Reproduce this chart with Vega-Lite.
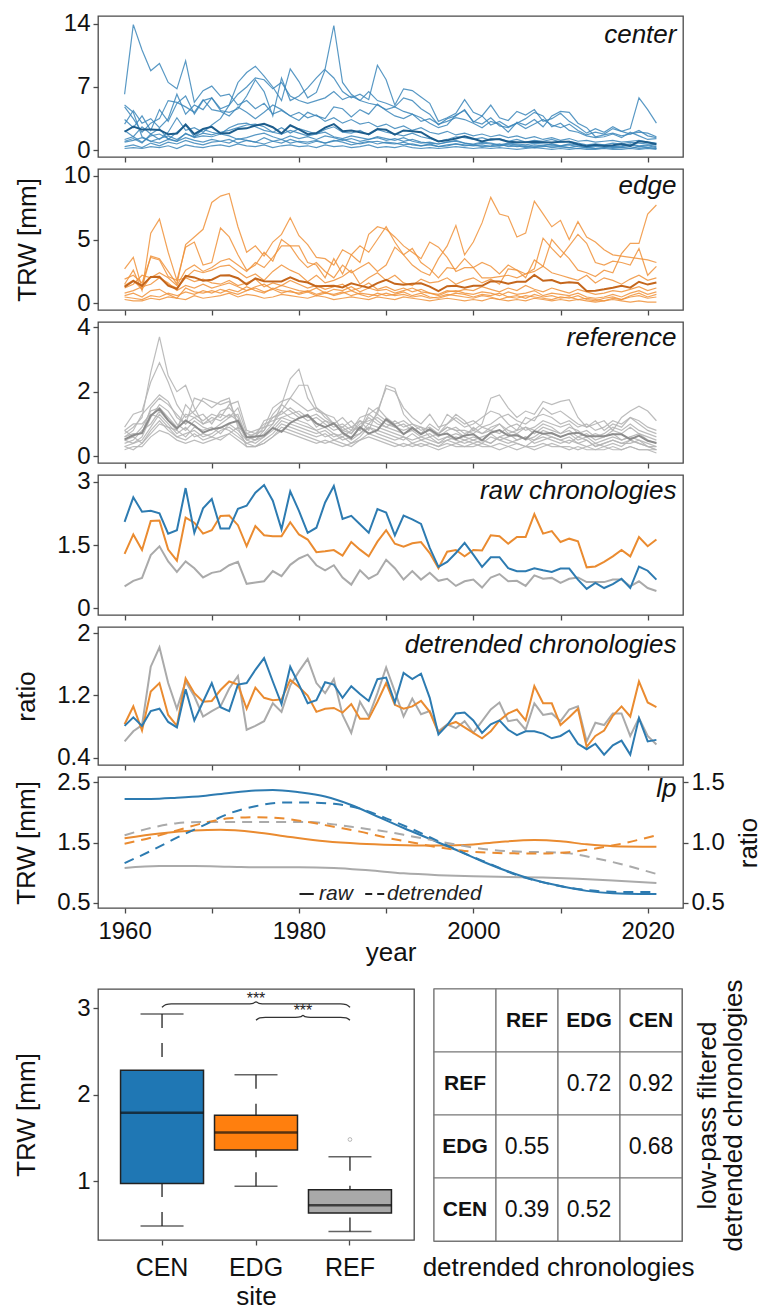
{
"$schema": "https://vega.github.io/schema/vega-lite/v6.json",
"background": "white",
"padding": {"left": 12, "top": 11, "right": 0, "bottom": 0},
"config": {
  "font": "Liberation Sans",
  "view": {"stroke": "#4a4a4a", "strokeWidth": 1.3},
  "axis": {"grid": false, "domain": false, "ticks": true, "tickColor": "#4a4a4a", "tickWidth": 1.3, "tickSize": 5, "labelFontSize": 24, "labelColor": "#111", "labelPadding": 3, "titleFontSize": 26, "titleFontWeight": "normal", "titleColor": "#111", "minExtent": 0, "labelFlush": false, "labelOverlap": false},
  "text": {"color": "#111"}
},
"datasets": {
  "raw": [
    {"year":1960,"cen":2.05,"edg":1.29,"ref":0.52},{"year":1961,"cen":2.63,"edg":1.75,"ref":0.65},{"year":1962,"cen":2.29,"edg":1.38,"ref":0.72},{"year":1963,"cen":2.31,"edg":2.07,"ref":1.26},{"year":1964,"cen":2.25,"edg":2.08,"ref":1.47},{"year":1965,"cen":1.77,"edg":1.39,"ref":1.11},{"year":1966,"cen":1.85,"edg":1.13,"ref":0.86},{"year":1967,"cen":2.85,"edg":2.15,"ref":1.11},{"year":1968,"cen":1.79,"edg":2.03,"ref":0.95},{"year":1969,"cen":2.37,"edg":1.77,"ref":0.73},
    {"year":1970,"cen":2.59,"edg":1.85,"ref":0.84},{"year":1971,"cen":1.89,"edg":2.19,"ref":0.88},{"year":1972,"cen":1.89,"edg":2.20,"ref":1.02},{"year":1973,"cen":2.36,"edg":1.97,"ref":1.10},{"year":1974,"cen":2.43,"edg":1.47,"ref":0.58},{"year":1975,"cen":2.74,"edg":1.95,"ref":0.61},{"year":1976,"cen":2.92,"edg":1.73,"ref":0.64},{"year":1977,"cen":2.55,"edg":1.71,"ref":0.88},{"year":1978,"cen":1.87,"edg":1.71,"ref":0.76},{"year":1979,"cen":2.77,"edg":2.04,"ref":1.03},
    {"year":1980,"cen":2.31,"edg":1.75,"ref":1.18},{"year":1981,"cen":1.79,"edg":1.63,"ref":1.27},{"year":1982,"cen":1.91,"edg":1.33,"ref":1.02},{"year":1983,"cen":2.51,"edg":1.35,"ref":0.90},{"year":1984,"cen":2.90,"edg":1.38,"ref":1.02},{"year":1985,"cen":2.12,"edg":1.25,"ref":0.73},{"year":1986,"cen":2.19,"edg":1.57,"ref":0.56},{"year":1987,"cen":1.99,"edg":1.39,"ref":0.90},{"year":1988,"cen":1.79,"edg":1.23,"ref":0.70},{"year":1989,"cen":2.35,"edg":1.58,"ref":0.81},
    {"year":1990,"cen":2.27,"edg":1.85,"ref":1.15},{"year":1991,"cen":1.73,"edg":1.53,"ref":0.95},{"year":1992,"cen":2.20,"edg":1.46,"ref":0.68},{"year":1993,"cen":2.11,"edg":1.54,"ref":0.88},{"year":1994,"cen":2.00,"edg":1.57,"ref":0.68},{"year":1995,"cen":1.43,"edg":1.31,"ref":0.84},{"year":1996,"cen":0.98,"edg":0.95,"ref":0.65},{"year":1997,"cen":1.10,"edg":1.34,"ref":0.70},{"year":1998,"cen":1.31,"edg":1.38,"ref":0.53},{"year":1999,"cen":1.55,"edg":1.23,"ref":0.64},
    {"year":2000,"cen":1.27,"edg":1.38,"ref":0.68},{"year":2001,"cen":0.98,"edg":1.37,"ref":0.49},{"year":2002,"cen":1.21,"edg":1.73,"ref":0.73},{"year":2003,"cen":1.21,"edg":1.71,"ref":0.81},{"year":2004,"cen":0.95,"edg":1.53,"ref":0.64},{"year":2005,"cen":0.88,"edg":1.69,"ref":0.65},{"year":2006,"cen":0.88,"edg":1.69,"ref":0.53},{"year":2007,"cen":0.95,"edg":2.23,"ref":0.78},{"year":2008,"cen":0.90,"edg":1.77,"ref":0.70},{"year":2009,"cen":0.86,"edg":1.83,"ref":0.72},
    {"year":2010,"cen":0.94,"edg":1.57,"ref":0.60},{"year":2011,"cen":0.94,"edg":1.65,"ref":0.70},{"year":2012,"cen":0.68,"edg":1.59,"ref":0.73},{"year":2013,"cen":0.46,"edg":0.97,"ref":0.62},{"year":2014,"cen":0.60,"edg":0.99,"ref":0.62},{"year":2015,"cen":0.48,"edg":1.10,"ref":0.62},{"year":2016,"cen":0.57,"edg":1.23,"ref":0.68},{"year":2017,"cen":0.70,"edg":1.38,"ref":0.68},{"year":2018,"cen":0.48,"edg":1.23,"ref":0.52},{"year":2019,"cen":0.99,"edg":1.69,"ref":0.64},
    {"year":2020,"cen":0.89,"edg":1.47,"ref":0.48},{"year":2021,"cen":0.68,"edg":1.63,"ref":0.41}
  ],
  "det": [
    {"year":1960,"cen":0.81,"edg":0.83,"ref":0.61},{"year":1961,"cen":0.92,"edg":1.06,"ref":0.74},{"year":1962,"cen":0.81,"edg":0.75,"ref":0.82},{"year":1963,"cen":1.00,"edg":1.25,"ref":1.57},{"year":1964,"cen":1.03,"edg":1.36,"ref":1.82},{"year":1965,"cen":0.86,"edg":0.95,"ref":1.36},{"year":1966,"cen":0.79,"edg":0.81,"ref":1.03},{"year":1967,"cen":1.28,"edg":1.42,"ref":1.38},{"year":1968,"cen":0.88,"edg":1.23,"ref":1.19},{"year":1969,"cen":1.12,"edg":1.12,"ref":0.93},
    {"year":1970,"cen":1.36,"edg":1.13,"ref":1.00},{"year":1971,"cen":1.05,"edg":1.27,"ref":1.06},{"year":1972,"cen":1.00,"edg":1.38,"ref":1.29},{"year":1973,"cen":1.34,"edg":1.34,"ref":1.45},{"year":1974,"cen":1.36,"edg":1.03,"ref":0.76},{"year":1975,"cen":1.53,"edg":1.30,"ref":0.81},{"year":1976,"cen":1.68,"edg":1.17,"ref":0.87},{"year":1977,"cen":1.38,"edg":1.14,"ref":1.10},{"year":1978,"cen":1.09,"edg":1.15,"ref":0.99},{"year":1979,"cen":1.57,"edg":1.40,"ref":1.33},
    {"year":1980,"cen":1.34,"edg":1.31,"ref":1.51},{"year":1981,"cen":1.10,"edg":1.20,"ref":1.67},{"year":1982,"cen":1.14,"edg":0.99,"ref":1.36},{"year":1983,"cen":1.37,"edg":1.03,"ref":1.23},{"year":1984,"cen":1.34,"edg":1.04,"ref":1.41},{"year":1985,"cen":1.17,"edg":0.98,"ref":0.95},{"year":1986,"cen":1.32,"edg":1.09,"ref":0.72},{"year":1987,"cen":1.22,"edg":0.90,"ref":1.12},{"year":1988,"cen":1.13,"edg":0.90,"ref":0.93},{"year":1989,"cen":1.41,"edg":1.12,"ref":1.23},
    {"year":1990,"cen":1.43,"edg":1.36,"ref":1.56},{"year":1991,"cen":1.11,"edg":1.08,"ref":1.25},{"year":1992,"cen":1.49,"edg":1.03,"ref":0.93},{"year":1993,"cen":1.41,"edg":1.06,"ref":1.16},{"year":1994,"cen":1.48,"edg":1.13,"ref":0.96},{"year":1995,"cen":1.17,"edg":0.99,"ref":1.00},{"year":1996,"cen":0.70,"edg":0.72,"ref":0.74},{"year":1997,"cen":0.82,"edg":0.82,"ref":0.83},{"year":1998,"cen":0.97,"edg":0.86,"ref":0.78},{"year":1999,"cen":0.98,"edg":0.79,"ref":0.87},
    {"year":2000,"cen":0.88,"edg":0.72,"ref":0.72},{"year":2001,"cen":0.72,"edg":0.65,"ref":0.87},{"year":2002,"cen":0.83,"edg":0.74,"ref":1.02},{"year":2003,"cen":0.88,"edg":0.88,"ref":1.11},{"year":2004,"cen":0.76,"edg":0.97,"ref":0.87},{"year":2005,"cen":0.69,"edg":1.02,"ref":0.89},{"year":2006,"cen":0.74,"edg":0.88,"ref":0.76},{"year":2007,"cen":0.74,"edg":1.32,"ref":1.10},{"year":2008,"cen":0.71,"edg":1.10,"ref":0.95},{"year":2009,"cen":0.65,"edg":1.10,"ref":0.97},
    {"year":2010,"cen":0.68,"edg":0.82,"ref":0.87},{"year":2011,"cen":0.75,"edg":0.92,"ref":1.02},{"year":2012,"cen":0.58,"edg":1.03,"ref":1.06},{"year":2013,"cen":0.51,"edg":0.54,"ref":0.61},{"year":2014,"cen":0.58,"edg":0.68,"ref":0.85},{"year":2015,"cen":0.44,"edg":0.75,"ref":0.82},{"year":2016,"cen":0.56,"edg":0.94,"ref":0.97},{"year":2017,"cen":0.62,"edg":1.06,"ref":0.97},{"year":2018,"cen":0.44,"edg":0.93,"ref":0.68},{"year":2019,"cen":0.91,"edg":1.38,"ref":0.91},
    {"year":2020,"cen":0.61,"edg":1.11,"ref":0.68},{"year":2021,"cen":0.63,"edg":1.05,"ref":0.57}
  ],
  "cen": [
    {"year":1960,"a":6.2,"b":3.4,"c":2.9,"d":4.8,"e":1.0,"f":2.2,"g":1.2,"h":0.4,"i":0.2,"j":0.9,"k":5.0},
    {"year":1961,"a":13.9,"b":2.5,"c":4.4,"d":3.5,"e":1.3,"f":1.5,"g":1.5,"h":0.6,"i":0.3,"j":1.1,"k":4.2},
    {"year":1962,"a":11.1,"b":3.8,"c":3.0,"d":2.0,"e":0.8,"f":2.6,"g":0.9,"h":0.3,"i":0.2,"j":1.4,"k":1.5},
    {"year":1963,"a":8.8,"b":2.2,"c":3.5,"d":3.0,"e":1.8,"f":1.8,"g":1.6,"h":0.8,"i":0.4,"j":1.0,"k":1.0},
    {"year":1964,"a":9.6,"b":4.5,"c":2.5,"d":3.5,"e":1.2,"f":2.4,"g":1.8,"h":0.5,"i":0.3,"j":1.3,"k":0.8},
    {"year":1965,"a":7.5,"b":3.2,"c":3.5,"d":5.5,"e":2.0,"f":1.2,"g":1.3,"h":0.9,"i":0.5,"j":1.6,"k":1.2},
    {"year":1966,"a":6.8,"b":5.2,"c":6.2,"d":5.3,"e":3.6,"f":2.0,"g":1.0,"h":0.7,"i":0.2,"j":1.2,"k":1.0},
    {"year":1967,"a":9.9,"b":6.0,"c":4.0,"d":4.8,"e":2.2,"f":2.8,"g":1.9,"h":1.1,"i":0.6,"j":1.8,"k":1.4},
    {"year":1968,"a":5.3,"b":4.0,"c":5.0,"d":4.2,"e":2.5,"f":1.5,"g":1.4,"h":0.8,"i":0.4,"j":1.5,"k":1.1},
    {"year":1969,"a":6.6,"b":5.5,"c":4.5,"d":5.6,"e":2.0,"f":2.3,"g":1.6,"h":0.6,"i":0.3,"j":1.9,"k":0.9},
    {"year":1970,"a":7.1,"b":5.8,"c":5.8,"d":4.5,"e":2.8,"f":2.0,"g":1.5,"h":0.9,"i":0.5,"j":1.7,"k":1.2},
    {"year":1971,"a":6.0,"b":4.6,"c":4.4,"d":4.3,"e":3.5,"f":1.8,"g":1.8,"h":1.0,"i":0.6,"j":2.0,"k":1.0},
    {"year":1972,"a":6.2,"b":5.0,"c":4.2,"d":3.8,"e":5.0,"f":2.5,"g":1.6,"h":1.2,"i":0.4,"j":2.2,"k":0.8},
    {"year":1973,"a":5.0,"b":7.5,"c":4.6,"d":4.8,"e":6.2,"f":2.9,"g":1.2,"h":0.8,"i":0.7,"j":2.5,"k":1.3},
    {"year":1974,"a":5.5,"b":8.6,"c":6.0,"d":4.2,"e":7.0,"f":3.0,"g":1.4,"h":1.1,"i":0.5,"j":2.8,"k":1.1},
    {"year":1975,"a":4.6,"b":9.3,"c":7.8,"d":3.5,"e":8.0,"f":2.6,"g":1.7,"h":0.9,"i":0.4,"j":2.9,"k":0.9},
    {"year":1976,"a":5.2,"b":8.2,"c":6.5,"d":4.2,"e":7.8,"f":2.2,"g":1.9,"h":0.7,"i":0.6,"j":2.6,"k":1.4},
    {"year":1977,"a":4.0,"b":7.0,"c":3.8,"d":5.0,"e":6.8,"f":2.0,"g":1.5,"h":1.0,"i":0.3,"j":2.0,"k":1.0},
    {"year":1978,"a":4.4,"b":5.5,"c":8.0,"d":4.5,"e":7.5,"f":2.5,"g":1.2,"h":0.8,"i":0.5,"j":1.8,"k":1.2},
    {"year":1979,"a":3.8,"b":9.0,"c":5.5,"d":3.8,"e":6.0,"f":1.9,"g":1.6,"h":1.2,"i":0.6,"j":2.2,"k":0.8},
    {"year":1980,"a":4.2,"b":7.6,"c":6.0,"d":3.3,"e":5.5,"f":2.4,"g":1.3,"h":0.9,"i":0.4,"j":1.9,"k":1.0},
    {"year":1981,"a":3.6,"b":5.8,"c":6.9,"d":4.2,"e":5.2,"f":2.1,"g":1.5,"h":0.7,"i":0.5,"j":1.6,"k":0.9},
    {"year":1982,"a":3.9,"b":6.4,"c":8.0,"d":3.8,"e":5.5,"f":1.8,"g":1.2,"h":1.0,"i":0.3,"j":1.8,"k":1.1},
    {"year":1983,"a":3.2,"b":8.9,"c":9.0,"d":3.5,"e":5.8,"f":2.3,"g":1.6,"h":0.8,"i":0.6,"j":2.0,"k":0.8},
    {"year":1984,"a":3.6,"b":8.0,"c":13.8,"d":4.8,"e":6.5,"f":2.6,"g":1.4,"h":1.1,"i":0.4,"j":1.5,"k":1.0},
    {"year":1985,"a":3.0,"b":6.5,"c":7.5,"d":4.6,"e":5.6,"f":2.0,"g":1.1,"h":0.9,"i":0.5,"j":1.3,"k":1.2},
    {"year":1986,"a":3.4,"b":5.8,"c":6.2,"d":3.7,"e":6.0,"f":1.9,"g":1.3,"h":0.6,"i":0.3,"j":1.6,"k":0.9},
    {"year":1987,"a":2.9,"b":6.2,"c":5.5,"d":4.5,"e":5.5,"f":2.2,"g":1.0,"h":0.8,"i":0.4,"j":1.4,"k":0.7},
    {"year":1988,"a":3.1,"b":5.6,"c":6.5,"d":4.0,"e":5.2,"f":1.7,"g":1.2,"h":1.0,"i":0.6,"j":1.2,"k":0.9},
    {"year":1989,"a":2.6,"b":9.4,"c":5.5,"d":5.1,"e":5.0,"f":2.3,"g":1.4,"h":0.7,"i":0.3,"j":1.5,"k":1.0},
    {"year":1990,"a":2.9,"b":7.8,"c":5.2,"d":4.4,"e":4.5,"f":2.0,"g":1.1,"h":0.9,"i":0.4,"j":1.3,"k":0.8},
    {"year":1991,"a":2.4,"b":5.0,"c":4.8,"d":3.8,"e":4.8,"f":1.8,"g":1.3,"h":0.8,"i":0.3,"j":1.1,"k":0.7},
    {"year":1992,"a":2.7,"b":6.8,"c":5.8,"d":3.5,"e":4.3,"f":1.6,"g":1.0,"h":0.6,"i":0.5,"j":1.4,"k":0.9},
    {"year":1993,"a":2.2,"b":6.6,"c":5.5,"d":4.0,"e":4.0,"f":1.9,"g":1.2,"h":0.7,"i":0.3,"j":1.0,"k":0.6},
    {"year":1994,"a":2.5,"b":5.9,"c":4.6,"d":3.6,"e":3.2,"f":1.5,"g":0.9,"h":0.5,"i":0.2,"j":0.8,"k":0.5},
    {"year":1995,"a":2.0,"b":5.2,"c":4.0,"d":3.0,"e":3.5,"f":1.3,"g":0.8,"h":0.6,"i":0.3,"j":0.9,"k":0.7},
    {"year":1996,"a":1.8,"b":3.2,"c":2.8,"d":2.5,"e":2.9,"f":1.0,"g":0.7,"h":0.4,"i":0.2,"j":0.7,"k":0.4},
    {"year":1997,"a":2.1,"b":3.6,"c":3.5,"d":2.8,"e":3.2,"f":1.2,"g":0.9,"h":0.5,"i":0.3,"j":0.9,"k":0.6},
    {"year":1998,"a":1.7,"b":4.1,"c":3.8,"d":3.9,"e":3.6,"f":1.5,"g":1.0,"h":0.7,"i":0.4,"j":1.1,"k":0.7},
    {"year":1999,"a":1.9,"b":5.6,"c":4.5,"d":4.4,"e":3.4,"f":1.4,"g":0.8,"h":0.6,"i":0.3,"j":0.8,"k":0.5},
    {"year":2000,"a":1.6,"b":4.2,"c":3.1,"d":3.2,"e":3.0,"f":1.2,"g":0.7,"h":0.5,"i":0.2,"j":0.6,"k":0.6},
    {"year":2001,"a":1.8,"b":3.8,"c":3.8,"d":2.9,"e":2.5,"f":1.4,"g":0.9,"h":0.6,"i":0.3,"j":0.8,"k":0.4},
    {"year":2002,"a":1.5,"b":5.0,"c":2.8,"d":3.6,"e":3.2,"f":1.1,"g":0.8,"h":0.4,"i":0.2,"j":0.7,"k":0.5},
    {"year":2003,"a":1.7,"b":3.6,"c":3.2,"d":2.7,"e":2.9,"f":1.3,"g":0.6,"h":0.5,"i":0.3,"j":0.5,"k":0.7},
    {"year":2004,"a":1.4,"b":3.3,"c":2.6,"d":2.5,"e":2.0,"f":1.0,"g":0.8,"h":0.6,"i":0.2,"j":0.7,"k":0.4},
    {"year":2005,"a":1.6,"b":4.3,"c":3.0,"d":3.0,"e":3.1,"f":1.2,"g":0.7,"h":0.4,"i":0.1,"j":0.6,"k":0.5},
    {"year":2006,"a":1.3,"b":3.9,"c":3.5,"d":2.4,"e":2.8,"f":0.9,"g":0.6,"h":0.5,"i":0.2,"j":0.4,"k":0.3},
    {"year":2007,"a":1.5,"b":4.5,"c":4.2,"d":2.9,"e":3.4,"f":1.1,"g":0.8,"h":0.3,"i":0.3,"j":0.6,"k":0.4},
    {"year":2008,"a":1.2,"b":3.2,"c":3.8,"d":3.4,"e":2.6,"f":1.0,"g":0.7,"h":0.4,"i":0.2,"j":0.5,"k":0.5},
    {"year":2009,"a":1.4,"b":3.5,"c":2.6,"d":2.8,"e":3.8,"f":1.2,"g":0.6,"h":0.5,"i":0.1,"j":0.7,"k":0.3},
    {"year":2010,"a":1.1,"b":4.1,"c":3.0,"d":2.5,"e":4.3,"f":0.9,"g":0.5,"h":0.4,"i":0.2,"j":0.5,"k":0.4},
    {"year":2011,"a":1.3,"b":3.2,"c":2.2,"d":2.9,"e":4.2,"f":1.0,"g":0.7,"h":0.3,"i":0.1,"j":0.6,"k":0.3},
    {"year":2012,"a":1.0,"b":2.6,"c":2.0,"d":2.2,"e":3.0,"f":0.8,"g":0.6,"h":0.5,"i":0.2,"j":0.4,"k":0.2},
    {"year":2013,"a":1.1,"b":1.9,"c":1.6,"d":1.7,"e":2.5,"f":0.6,"g":0.4,"h":0.3,"i":0.1,"j":0.3,"k":0.3},
    {"year":2014,"a":0.9,"b":2.4,"c":1.4,"d":2.0,"e":1.5,"f":0.7,"g":0.5,"h":0.2,"i":0.1,"j":0.4,"k":0.2},
    {"year":2015,"a":1.0,"b":2.0,"c":1.5,"d":1.8,"e":1.7,"f":0.6,"g":0.6,"h":0.3,"i":0.2,"j":0.5,"k":0.3},
    {"year":2016,"a":1.1,"b":2.6,"c":1.8,"d":2.4,"e":1.9,"f":0.8,"g":0.4,"h":0.4,"i":0.1,"j":0.3,"k":0.2},
    {"year":2017,"a":0.9,"b":2.1,"c":1.4,"d":2.1,"e":1.6,"f":0.7,"g":0.5,"h":0.3,"i":0.1,"j":0.4,"k":0.3},
    {"year":2018,"a":1.0,"b":2.4,"c":2.0,"d":1.8,"e":1.8,"f":0.9,"g":0.7,"h":0.2,"i":0.2,"j":0.6,"k":0.4},
    {"year":2019,"a":1.1,"b":5.8,"c":1.6,"d":2.2,"e":2.0,"f":0.8,"g":0.5,"h":0.4,"i":0.1,"j":0.4,"k":0.2},
    {"year":2020,"a":0.9,"b":4.5,"c":1.2,"d":1.6,"e":1.9,"f":0.7,"g":0.6,"h":0.3,"i":0.2,"j":0.5,"k":0.3},
    {"year":2021,"a":0.8,"b":3.0,"c":1.3,"d":1.4,"e":1.5,"f":0.6,"g":0.4,"h":0.2,"i":0.1,"j":0.3,"k":0.2}
  ],
  "edg": [
    {"year":1960,"a":2.7,"b":1.5,"c":1.2,"d":1.9,"e":0.8,"f":0.5,"g":0.3,"h":1.4,"i":0.6},
    {"year":1961,"a":3.6,"b":2.6,"c":1.5,"d":2.2,"e":1.0,"f":0.4,"g":0.2,"h":1.8,"i":0.8},
    {"year":1962,"a":1.2,"b":1.0,"c":2.2,"d":1.6,"e":1.3,"f":0.3,"g":0.2,"h":1.1,"i":0.5},
    {"year":1963,"a":3.7,"b":5.5,"c":2.0,"d":3.6,"e":1.5,"f":0.6,"g":0.4,"h":2.1,"i":1.0},
    {"year":1964,"a":3.5,"b":6.6,"c":2.4,"d":3.4,"e":2.0,"f":0.5,"g":0.3,"h":2.0,"i":1.1},
    {"year":1965,"a":2.5,"b":4.0,"c":2.0,"d":2.1,"e":1.6,"f":0.8,"g":0.5,"h":1.5,"i":0.7},
    {"year":1966,"a":1.5,"b":1.8,"c":1.4,"d":1.8,"e":1.0,"f":0.6,"g":0.4,"h":1.2,"i":0.4},
    {"year":1967,"a":4.6,"b":4.4,"c":2.6,"d":2.0,"e":1.4,"f":0.9,"g":0.3,"h":2.0,"i":1.2},
    {"year":1968,"a":5.2,"b":4.8,"c":3.0,"d":2.6,"e":1.2,"f":0.7,"g":0.6,"h":1.7,"i":0.9},
    {"year":1969,"a":5.8,"b":3.0,"c":2.5,"d":2.4,"e":1.5,"f":1.0,"g":0.4,"h":1.9,"i":0.8},
    {"year":1970,"a":7.9,"b":3.2,"c":2.8,"d":2.6,"e":1.2,"f":0.8,"g":0.5,"h":1.6,"i":1.0},
    {"year":1971,"a":8.4,"b":5.9,"c":3.3,"d":2.9,"e":1.4,"f":1.1,"g":0.6,"h":1.5,"i":0.8},
    {"year":1972,"a":8.6,"b":5.2,"c":3.5,"d":3.0,"e":1.6,"f":0.9,"g":0.8,"h":1.8,"i":1.1},
    {"year":1973,"a":6.0,"b":3.8,"c":3.0,"d":2.5,"e":1.3,"f":0.7,"g":0.5,"h":1.4,"i":0.9},
    {"year":1974,"a":4.0,"b":2.6,"c":2.5,"d":2.0,"e":1.0,"f":1.0,"g":0.7,"h":1.6,"i":1.3},
    {"year":1975,"a":4.5,"b":3.0,"c":3.2,"d":2.3,"e":1.3,"f":1.2,"g":0.6,"h":1.9,"i":1.0},
    {"year":1976,"a":3.7,"b":4.0,"c":2.8,"d":1.8,"e":1.5,"f":0.9,"g":0.4,"h":1.3,"i":0.8},
    {"year":1977,"a":4.8,"b":3.3,"c":3.6,"d":2.5,"e":1.1,"f":1.1,"g":0.5,"h":1.6,"i":1.2},
    {"year":1978,"a":5.4,"b":5.0,"c":4.5,"d":3.0,"e":1.4,"f":0.8,"g":0.7,"h":1.4,"i":1.0},
    {"year":1979,"a":6.7,"b":4.5,"c":4.5,"d":2.6,"e":1.2,"f":1.0,"g":0.6,"h":1.8,"i":0.9},
    {"year":1980,"a":5.3,"b":4.5,"c":3.5,"d":2.3,"e":1.0,"f":0.7,"g":0.5,"h":1.5,"i":0.8},
    {"year":1981,"a":4.6,"b":3.2,"c":2.8,"d":1.7,"e":0.9,"f":0.9,"g":0.4,"h":1.2,"i":1.0},
    {"year":1982,"a":3.6,"b":3.0,"c":3.2,"d":2.2,"e":1.2,"f":0.6,"g":0.6,"h":1.4,"i":0.7},
    {"year":1983,"a":3.5,"b":2.0,"c":2.5,"d":1.6,"e":0.8,"f":0.8,"g":0.5,"h":1.1,"i":0.9},
    {"year":1984,"a":3.0,"b":3.5,"c":2.0,"d":1.8,"e":1.1,"f":0.7,"g":0.3,"h":1.3,"i":0.6},
    {"year":1985,"a":4.2,"b":2.3,"c":3.0,"d":2.1,"e":1.0,"f":0.9,"g":0.4,"h":1.5,"i":0.8},
    {"year":1986,"a":3.8,"b":3.8,"c":2.4,"d":2.6,"e":1.3,"f":0.6,"g":0.5,"h":1.0,"i":1.0},
    {"year":1987,"a":3.2,"b":4.5,"c":2.8,"d":1.5,"e":0.9,"f":0.8,"g":0.4,"h":1.2,"i":0.7},
    {"year":1988,"a":5.4,"b":4.0,"c":3.2,"d":2.0,"e":1.2,"f":0.7,"g":0.3,"h":1.6,"i":0.5},
    {"year":1989,"a":6.0,"b":5.0,"c":2.5,"d":2.4,"e":1.0,"f":0.6,"g":0.5,"h":1.1,"i":0.8},
    {"year":1990,"a":5.8,"b":6.0,"c":3.0,"d":1.8,"e":1.1,"f":0.8,"g":0.4,"h":1.3,"i":0.6},
    {"year":1991,"a":5.2,"b":4.8,"c":4.4,"d":2.2,"e":0.8,"f":0.6,"g":0.3,"h":1.0,"i":0.7},
    {"year":1992,"a":4.5,"b":3.8,"c":3.8,"d":1.6,"e":1.0,"f":0.7,"g":0.5,"h":1.2,"i":0.9},
    {"year":1993,"a":4.0,"b":3.0,"c":4.3,"d":1.4,"e":1.2,"f":0.5,"g":0.4,"h":0.9,"i":0.6},
    {"year":1994,"a":3.5,"b":2.5,"c":3.2,"d":1.9,"e":0.9,"f":0.6,"g":0.3,"h":1.1,"i":0.8},
    {"year":1995,"a":4.8,"b":2.2,"c":2.7,"d":1.6,"e":0.8,"f":0.4,"g":0.2,"h":0.8,"i":0.5},
    {"year":1996,"a":4.4,"b":3.5,"c":2.0,"d":1.7,"e":0.7,"f":0.5,"g":0.3,"h":0.6,"i":0.4},
    {"year":1997,"a":3.6,"b":4.5,"c":2.8,"d":2.0,"e":1.0,"f":0.7,"g":0.4,"h":0.9,"i":0.6},
    {"year":1998,"a":2.5,"b":6.1,"c":2.7,"d":1.5,"e":0.9,"f":0.6,"g":0.3,"h":1.0,"i":0.8},
    {"year":1999,"a":2.8,"b":3.8,"c":3.5,"d":1.8,"e":1.1,"f":0.5,"g":0.2,"h":0.8,"i":0.7},
    {"year":2000,"a":2.8,"b":4.8,"c":2.8,"d":2.0,"e":1.0,"f":0.4,"g":0.3,"h":0.7,"i":0.5},
    {"year":2001,"a":2.0,"b":6.3,"c":3.2,"d":1.6,"e":1.3,"f":0.6,"g":0.2,"h":0.9,"i":0.7},
    {"year":2002,"a":2.0,"b":8.3,"c":2.9,"d":1.9,"e":1.1,"f":0.5,"g":0.4,"h":0.8,"i":0.6},
    {"year":2003,"a":2.1,"b":7.0,"c":2.3,"d":1.5,"e":0.9,"f":0.3,"g":0.3,"h":0.6,"i":0.8},
    {"year":2004,"a":2.2,"b":6.8,"c":3.0,"d":2.7,"e":1.2,"f":0.5,"g":0.2,"h":0.9,"i":0.5},
    {"year":2005,"a":2.0,"b":5.2,"c":2.6,"d":2.6,"e":1.0,"f":0.4,"g":0.3,"h":0.7,"i":0.6},
    {"year":2006,"a":2.3,"b":5.5,"c":2.3,"d":2.0,"e":1.4,"f":0.6,"g":0.2,"h":0.8,"i":0.4},
    {"year":2007,"a":2.7,"b":8.0,"c":2.5,"d":3.4,"e":1.1,"f":0.5,"g":0.4,"h":1.0,"i":0.7},
    {"year":2008,"a":5.1,"b":7.0,"c":2.9,"d":2.9,"e":0.9,"f":0.4,"g":0.3,"h":0.6,"i":0.5},
    {"year":2009,"a":4.3,"b":6.0,"c":5.0,"d":2.4,"e":1.2,"f":0.3,"g":0.2,"h":0.8,"i":0.6},
    {"year":2010,"a":3.6,"b":6.5,"c":4.2,"d":2.2,"e":1.0,"f":0.5,"g":0.3,"h":0.7,"i":0.4},
    {"year":2011,"a":4.5,"b":5.0,"c":3.5,"d":2.0,"e":0.8,"f":0.4,"g":0.2,"h":0.6,"i":0.5},
    {"year":2012,"a":5.4,"b":6.4,"c":2.6,"d":1.8,"e":1.1,"f":0.6,"g":0.3,"h":0.8,"i":0.3},
    {"year":2013,"a":4.7,"b":5.2,"c":2.4,"d":2.2,"e":0.9,"f":0.3,"g":0.2,"h":0.5,"i":0.4},
    {"year":2014,"a":3.2,"b":4.8,"c":2.1,"d":1.6,"e":0.7,"f":0.2,"g":0.1,"h":0.4,"i":0.3},
    {"year":2015,"a":3.0,"b":4.2,"c":2.6,"d":2.0,"e":0.8,"f":0.4,"g":0.2,"h":0.5,"i":0.2},
    {"year":2016,"a":3.3,"b":3.8,"c":2.4,"d":1.8,"e":1.0,"f":0.5,"g":0.3,"h":0.7,"i":0.4},
    {"year":2017,"a":3.2,"b":3.7,"c":3.9,"d":1.5,"e":0.9,"f":0.3,"g":0.2,"h":0.5,"i":0.3},
    {"year":2018,"a":3.0,"b":3.6,"c":4.7,"d":1.9,"e":1.1,"f":0.6,"g":0.1,"h":0.8,"i":0.5},
    {"year":2019,"a":4.3,"b":3.5,"c":4.7,"d":2.2,"e":1.3,"f":0.8,"g":0.2,"h":1.0,"i":0.6},
    {"year":2020,"a":2.2,"b":3.4,"c":7.0,"d":1.8,"e":1.0,"f":0.5,"g":0.1,"h":0.7,"i":0.4},
    {"year":2021,"a":2.9,"b":3.2,"c":7.7,"d":2.0,"e":1.2,"f":0.7,"g":0.1,"h":0.9,"i":0.5}
  ],
  "ref": [
    {"year":1960,"a":0.7,"b":0.9,"c":0.6,"d":0.5,"e":0.3,"f":0.2,"g":0.8,"h":0.4,"i":0.6,"j":0.3,"k":0.8,"l":0.5},
    {"year":1961,"a":0.9,"b":1.3,"c":0.8,"d":0.4,"e":0.4,"f":0.3,"g":0.6,"h":0.5,"i":0.7,"j":0.2,"k":1.0,"l":0.6},
    {"year":1962,"a":1.2,"b":1.4,"c":1.3,"d":0.6,"e":0.5,"f":0.3,"g":0.9,"h":0.8,"i":0.7,"j":0.4,"k":1.0,"l":0.4},
    {"year":1963,"a":2.6,"b":2.3,"c":1.6,"d":1.2,"e":0.9,"f":0.6,"g":1.4,"h":1.0,"i":1.5,"j":0.7,"k":1.3,"l":0.8},
    {"year":1964,"a":3.7,"b":2.9,"c":1.9,"d":1.6,"e":1.3,"f":0.8,"g":1.5,"h":1.4,"i":1.8,"j":1.0,"k":1.2,"l":1.1},
    {"year":1965,"a":2.5,"b":2.3,"c":1.7,"d":1.4,"e":1.0,"f":0.7,"g":1.2,"h":1.1,"i":1.6,"j":0.9,"k":0.9,"l":0.8},
    {"year":1966,"a":2.0,"b":1.6,"c":1.2,"d":1.0,"e":0.7,"f":0.5,"g":0.9,"h":0.8,"i":1.3,"j":0.6,"k":0.8,"l":0.6},
    {"year":1967,"a":2.2,"b":1.2,"c":1.0,"d":0.8,"e":0.9,"f":0.4,"g":1.3,"h":0.6,"i":1.0,"j":0.7,"k":1.6,"l":0.5},
    {"year":1968,"a":1.5,"b":1.4,"c":1.8,"d":1.1,"e":0.6,"f":0.5,"g":1.2,"h":0.9,"i":1.2,"j":0.8,"k":1.3,"l":0.7},
    {"year":1969,"a":1.0,"b":1.8,"c":1.7,"d":0.9,"e":0.7,"f":0.4,"g":1.0,"h":0.8,"i":1.3,"j":0.6,"k":1.1,"l":0.5},
    {"year":1970,"a":1.1,"b":1.7,"c":1.5,"d":0.8,"e":0.6,"f":0.5,"g":1.2,"h":0.9,"i":1.0,"j":0.7,"k":1.3,"l":0.6},
    {"year":1971,"a":1.3,"b":1.6,"c":1.7,"d":1.0,"e":0.8,"f":0.6,"g":1.1,"h":0.7,"i":1.4,"j":0.9,"k":1.2,"l":0.5},
    {"year":1972,"a":1.2,"b":1.7,"c":1.8,"d":1.2,"e":0.9,"f":0.7,"g":1.3,"h":1.0,"i":1.5,"j":0.8,"k":1.6,"l":0.7},
    {"year":1973,"a":1.5,"b":1.0,"c":0.9,"d":1.3,"e":0.7,"f":0.5,"g":1.1,"h":0.8,"i":1.2,"j":0.6,"k":1.7,"l":0.9},
    {"year":1974,"a":0.7,"b":0.5,"c":0.7,"d":0.6,"e":0.4,"f":0.3,"g":0.6,"h":0.5,"i":0.6,"j":0.4,"k":0.8,"l":0.3},
    {"year":1975,"a":0.6,"b":0.6,"c":0.8,"d":0.5,"e":0.3,"f":0.3,"g":0.7,"h":0.4,"i":0.5,"j":0.5,"k":0.7,"l":0.3},
    {"year":1976,"a":0.9,"b":1.1,"c":0.9,"d":0.7,"e":0.5,"f":0.4,"g":0.8,"h":0.6,"i":0.8,"j":0.6,"k":1.0,"l":0.4},
    {"year":1977,"a":1.0,"b":1.2,"c":1.5,"d":1.0,"e":0.7,"f":0.6,"g":1.2,"h":0.8,"i":1.3,"j":0.9,"k":1.1,"l":0.6},
    {"year":1978,"a":1.6,"b":1.4,"c":1.7,"d":1.4,"e":1.0,"f":0.8,"g":1.3,"h":1.1,"i":1.6,"j":1.2,"k":1.2,"l":0.9},
    {"year":1979,"a":2.4,"b":1.8,"c":1.8,"d":1.2,"e":0.9,"f":0.7,"g":1.5,"h":1.0,"i":1.4,"j":1.1,"k":1.3,"l":0.8},
    {"year":1980,"a":2.7,"b":2.2,"c":1.6,"d":1.1,"e":0.8,"f":0.6,"g":1.3,"h":0.9,"i":1.2,"j":1.0,"k":1.4,"l":0.7},
    {"year":1981,"a":1.8,"b":2.2,"c":1.4,"d":1.0,"e":0.7,"f":0.5,"g":1.1,"h":0.8,"i":1.3,"j":0.9,"k":1.2,"l":0.6},
    {"year":1982,"a":1.4,"b":1.5,"c":1.5,"d":0.8,"e":0.6,"f":0.4,"g":1.2,"h":0.7,"i":0.9,"j":0.8,"k":1.3,"l":0.5},
    {"year":1983,"a":1.3,"b":1.3,"c":1.2,"d":0.9,"e":0.7,"f":0.5,"g":1.0,"h":0.8,"i":1.1,"j":0.6,"k":1.1,"l":0.4},
    {"year":1984,"a":1.2,"b":1.0,"c":1.0,"d":0.7,"e":0.5,"f":0.4,"g":0.8,"h":0.6,"i":1.0,"j":0.7,"k":0.9,"l":0.5},
    {"year":1985,"a":0.8,"b":1.2,"c":0.9,"d":0.6,"e":0.6,"f":0.3,"g":0.9,"h":0.7,"i":0.8,"j":0.5,"k":1.0,"l":0.4},
    {"year":1986,"a":0.7,"b":0.9,"c":1.1,"d":0.8,"e":0.4,"f":0.4,"g":0.7,"h":0.5,"i":0.9,"j":0.6,"k":0.8,"l":0.3},
    {"year":1987,"a":1.1,"b":1.1,"c":0.8,"d":0.9,"e":0.6,"f":0.5,"g":1.0,"h":0.7,"i":0.8,"j":0.7,"k":1.2,"l":0.5},
    {"year":1988,"a":1.0,"b":0.8,"c":1.3,"d":1.2,"e":0.9,"f":0.6,"g":1.1,"h":0.9,"i":1.5,"j":1.0,"k":1.3,"l":0.7},
    {"year":1989,"a":1.3,"b":1.4,"c":1.5,"d":1.0,"e":0.7,"f":0.5,"g":1.2,"h":0.8,"i":1.3,"j":0.9,"k":1.1,"l":0.6},
    {"year":1990,"a":2.2,"b":2.1,"c":1.2,"d":0.9,"e":0.6,"f":0.4,"g":1.0,"h":0.7,"i":1.1,"j":0.8,"k":0.9,"l":0.5},
    {"year":1991,"a":2.1,"b":2.0,"c":1.0,"d":0.8,"e":0.5,"f":0.3,"g":0.9,"h":0.6,"i":0.9,"j":0.7,"k":1.1,"l":0.4},
    {"year":1992,"a":1.3,"b":1.5,"c":1.1,"d":0.7,"e":0.6,"f":0.4,"g":0.8,"h":0.5,"i":1.0,"j":0.6,"k":0.9,"l":0.3},
    {"year":1993,"a":1.0,"b":1.2,"c":0.9,"d":0.8,"e":0.4,"f":0.3,"g":0.9,"h":0.7,"i":0.8,"j":0.5,"k":1.0,"l":0.4},
    {"year":1994,"a":0.9,"b":1.0,"c":0.7,"d":0.6,"e":0.5,"f":0.4,"g":0.7,"h":0.5,"i":0.9,"j":0.6,"k":0.8,"l":0.3},
    {"year":1995,"a":0.8,"b":1.3,"c":1.0,"d":0.7,"e":0.4,"f":0.3,"g":0.8,"h":0.6,"i":0.6,"j":0.5,"k":0.9,"l":0.4},
    {"year":1996,"a":0.7,"b":0.9,"c":0.8,"d":0.5,"e":0.3,"f":0.2,"g":0.6,"h":0.4,"i":0.7,"j":0.4,"k":0.7,"l":0.3},
    {"year":1997,"a":0.9,"b":1.0,"c":1.3,"d":0.6,"e":0.5,"f":0.3,"g":0.8,"h":0.5,"i":0.9,"j":0.6,"k":1.0,"l":0.4},
    {"year":1998,"a":0.8,"b":1.3,"c":1.1,"d":0.7,"e":0.4,"f":0.4,"g":0.9,"h":0.6,"i":0.8,"j":0.5,"k":1.2,"l":0.3},
    {"year":1999,"a":0.6,"b":1.1,"c":0.9,"d":0.6,"e":0.5,"f":0.3,"g":0.7,"h":0.5,"i":0.8,"j":0.4,"k":1.0,"l":0.3},
    {"year":2000,"a":0.9,"b":0.8,"c":1.0,"d":0.5,"e":0.4,"f":0.3,"g":0.8,"h":0.6,"i":0.7,"j":0.5,"k":1.1,"l":0.4},
    {"year":2001,"a":0.7,"b":1.0,"c":1.2,"d":0.6,"e":0.5,"f":0.4,"g":0.7,"h":0.5,"i":0.9,"j":0.4,"k":0.9,"l":0.3},
    {"year":2002,"a":0.8,"b":1.8,"c":1.4,"d":0.7,"e":0.4,"f":0.3,"g":0.9,"h":0.4,"i":0.8,"j":0.6,"k":1.0,"l":0.3},
    {"year":2003,"a":1.0,"b":1.9,"c":1.3,"d":0.5,"e":0.6,"f":0.2,"g":1.0,"h":0.6,"i":0.7,"j":0.5,"k":1.2,"l":0.4},
    {"year":2004,"a":0.8,"b":1.5,"c":1.0,"d":0.6,"e":0.5,"f":0.3,"g":0.7,"h":0.7,"i":0.9,"j":0.4,"k":1.3,"l":0.3},
    {"year":2005,"a":0.7,"b":1.2,"c":0.8,"d":0.7,"e":0.4,"f":0.4,"g":0.8,"h":0.5,"i":1.0,"j":0.5,"k":1.1,"l":0.2},
    {"year":2006,"a":0.9,"b":1.4,"c":1.2,"d":0.5,"e":0.3,"f":0.3,"g":0.9,"h":0.6,"i":0.8,"j":0.6,"k":1.0,"l":0.3},
    {"year":2007,"a":0.8,"b":1.3,"c":1.1,"d":0.6,"e":0.5,"f":0.2,"g":0.7,"h":0.4,"i":0.9,"j":0.5,"k":1.2,"l":0.3},
    {"year":2008,"a":1.0,"b":1.7,"c":1.5,"d":0.8,"e":0.6,"f":0.3,"g":0.9,"h":0.5,"i":1.1,"j":0.7,"k":1.3,"l":0.4},
    {"year":2009,"a":0.9,"b":1.6,"c":1.3,"d":0.7,"e":0.5,"f":0.4,"g":0.8,"h":0.6,"i":1.0,"j":0.6,"k":1.2,"l":0.3},
    {"year":2010,"a":0.7,"b":1.7,"c":1.4,"d":0.6,"e":0.4,"f":0.3,"g":0.7,"h":0.5,"i":0.9,"j":0.5,"k":1.0,"l":0.3},
    {"year":2011,"a":0.8,"b":1.75,"c":1.2,"d":0.7,"e":0.5,"f":0.2,"g":0.9,"h":0.4,"i":1.0,"j":0.6,"k":1.1,"l":0.3},
    {"year":2012,"a":0.6,"b":1.2,"c":1.0,"d":0.5,"e":0.4,"f":0.3,"g":0.8,"h":0.6,"i":0.7,"j":0.4,"k":0.9,"l":0.2},
    {"year":2013,"a":0.7,"b":0.9,"c":0.9,"d":0.6,"e":0.3,"f":0.2,"g":0.6,"h":0.5,"i":0.8,"j":0.5,"k":1.0,"l":0.3},
    {"year":2014,"a":0.5,"b":1.0,"c":1.1,"d":0.4,"e":0.4,"f":0.2,"g":0.7,"h":0.3,"i":0.6,"j":0.3,"k":0.8,"l":0.2},
    {"year":2015,"a":0.6,"b":1.1,"c":0.8,"d":0.5,"e":0.3,"f":0.3,"g":0.6,"h":0.4,"i":0.7,"j":0.4,"k":0.9,"l":0.2},
    {"year":2016,"a":0.7,"b":0.8,"c":1.0,"d":0.6,"e":0.4,"f":0.2,"g":0.8,"h":0.5,"i":0.9,"j":0.5,"k":1.1,"l":0.3},
    {"year":2017,"a":0.5,"b":1.2,"c":0.9,"d":0.5,"e":0.3,"f":0.2,"g":0.7,"h":0.4,"i":0.8,"j":0.4,"k":1.0,"l":0.2},
    {"year":2018,"a":0.6,"b":1.4,"c":1.2,"d":0.6,"e":0.5,"f":0.3,"g":0.9,"h":0.4,"i":1.0,"j":0.5,"k":1.2,"l":0.3},
    {"year":2019,"a":0.7,"b":1.55,"c":1.0,"d":0.5,"e":0.4,"f":0.2,"g":0.7,"h":0.5,"i":0.8,"j":0.4,"k":1.1,"l":0.2},
    {"year":2020,"a":0.5,"b":1.4,"c":0.8,"d":0.4,"e":0.3,"f":0.2,"g":0.6,"h":0.3,"i":0.7,"j":0.3,"k":0.9,"l":0.2},
    {"year":2021,"a":0.4,"b":1.1,"c":0.7,"d":0.3,"e":0.2,"f":0.1,"g":0.5,"h":0.3,"i":0.6,"j":0.2,"k":0.8,"l":0.2}
  ],
  "lp": [
    {"s":"ref","k":"raw","year":1960,"v":1.08},{"s":"ref","k":"raw","year":1964,"v":1.11},{"s":"ref","k":"raw","year":1968,"v":1.11},{"s":"ref","k":"raw","year":1972,"v":1.10},{"s":"ref","k":"raw","year":1976,"v":1.09},{"s":"ref","k":"raw","year":1980,"v":1.09},{"s":"ref","k":"raw","year":1984,"v":1.08},{"s":"ref","k":"raw","year":1988,"v":1.04},{"s":"ref","k":"raw","year":1992,"v":0.99},{"s":"ref","k":"raw","year":1996,"v":0.96},{"s":"ref","k":"raw","year":2000,"v":0.94},{"s":"ref","k":"raw","year":2004,"v":0.93},{"s":"ref","k":"raw","year":2008,"v":0.92},{"s":"ref","k":"raw","year":2012,"v":0.90},{"s":"ref","k":"raw","year":2016,"v":0.87},{"s":"ref","k":"raw","year":2021,"v":0.83},
    {"s":"ref","k":"det","year":1960,"v":1.06},{"s":"ref","k":"det","year":1963,"v":1.12},{"s":"ref","k":"det","year":1966,"v":1.16},{"s":"ref","k":"det","year":1969,"v":1.17},{"s":"ref","k":"det","year":1972,"v":1.17},{"s":"ref","k":"det","year":1975,"v":1.17},{"s":"ref","k":"det","year":1978,"v":1.17},{"s":"ref","k":"det","year":1981,"v":1.17},{"s":"ref","k":"det","year":1984,"v":1.15},{"s":"ref","k":"det","year":1987,"v":1.12},{"s":"ref","k":"det","year":1990,"v":1.09},{"s":"ref","k":"det","year":1993,"v":1.05},{"s":"ref","k":"det","year":1996,"v":1.01},{"s":"ref","k":"det","year":1999,"v":0.97},{"s":"ref","k":"det","year":2002,"v":0.94},{"s":"ref","k":"det","year":2005,"v":0.925},{"s":"ref","k":"det","year":2008,"v":0.92},{"s":"ref","k":"det","year":2011,"v":0.91},{"s":"ref","k":"det","year":2014,"v":0.87},{"s":"ref","k":"det","year":2017,"v":0.82},{"s":"ref","k":"det","year":2021,"v":0.74},
    {"s":"edg","k":"raw","year":1960,"v":1.57},{"s":"edg","k":"raw","year":1964,"v":1.65},{"s":"edg","k":"raw","year":1968,"v":1.70},{"s":"edg","k":"raw","year":1971,"v":1.71},{"s":"edg","k":"raw","year":1975,"v":1.67},{"s":"edg","k":"raw","year":1979,"v":1.59},{"s":"edg","k":"raw","year":1983,"v":1.52},{"s":"edg","k":"raw","year":1987,"v":1.48},{"s":"edg","k":"raw","year":1991,"v":1.46},{"s":"edg","k":"raw","year":1995,"v":1.45},{"s":"edg","k":"raw","year":1999,"v":1.46},{"s":"edg","k":"raw","year":2003,"v":1.51},{"s":"edg","k":"raw","year":2007,"v":1.54},{"s":"edg","k":"raw","year":2010,"v":1.52},{"s":"edg","k":"raw","year":2013,"v":1.47},{"s":"edg","k":"raw","year":2016,"v":1.44},{"s":"edg","k":"raw","year":2021,"v":1.43},
    {"s":"edg","k":"det","year":1960,"v":0.99},{"s":"edg","k":"det","year":1963,"v":1.04},{"s":"edg","k":"det","year":1966,"v":1.10},{"s":"edg","k":"det","year":1969,"v":1.16},{"s":"edg","k":"det","year":1972,"v":1.20},{"s":"edg","k":"det","year":1975,"v":1.21},{"s":"edg","k":"det","year":1978,"v":1.20},{"s":"edg","k":"det","year":1981,"v":1.17},{"s":"edg","k":"det","year":1984,"v":1.13},{"s":"edg","k":"det","year":1987,"v":1.09},{"s":"edg","k":"det","year":1990,"v":1.04},{"s":"edg","k":"det","year":1993,"v":1.00},{"s":"edg","k":"det","year":1996,"v":0.96},{"s":"edg","k":"det","year":1999,"v":0.93},{"s":"edg","k":"det","year":2002,"v":0.915},{"s":"edg","k":"det","year":2005,"v":0.91},{"s":"edg","k":"det","year":2008,"v":0.91},{"s":"edg","k":"det","year":2011,"v":0.92},{"s":"edg","k":"det","year":2014,"v":0.95},{"s":"edg","k":"det","year":2017,"v":0.99},{"s":"edg","k":"det","year":2021,"v":1.06},
    {"s":"cen","k":"raw","year":1960,"v":2.22},{"s":"cen","k":"raw","year":1963,"v":2.22},{"s":"cen","k":"raw","year":1966,"v":2.24},{"s":"cen","k":"raw","year":1969,"v":2.27},{"s":"cen","k":"raw","year":1972,"v":2.32},{"s":"cen","k":"raw","year":1975,"v":2.36},{"s":"cen","k":"raw","year":1977,"v":2.37},{"s":"cen","k":"raw","year":1980,"v":2.33},{"s":"cen","k":"raw","year":1983,"v":2.26},{"s":"cen","k":"raw","year":1986,"v":2.12},{"s":"cen","k":"raw","year":1989,"v":1.93},{"s":"cen","k":"raw","year":1992,"v":1.74},{"s":"cen","k":"raw","year":1995,"v":1.56},{"s":"cen","k":"raw","year":1998,"v":1.38},{"s":"cen","k":"raw","year":2001,"v":1.19},{"s":"cen","k":"raw","year":2004,"v":1.02},{"s":"cen","k":"raw","year":2007,"v":0.88},{"s":"cen","k":"raw","year":2010,"v":0.78},{"s":"cen","k":"raw","year":2013,"v":0.70},{"s":"cen","k":"raw","year":2016,"v":0.66},{"s":"cen","k":"raw","year":2019,"v":0.65},{"s":"cen","k":"raw","year":2021,"v":0.65},
    {"s":"cen","k":"det","year":1960,"v":0.83},{"s":"cen","k":"det","year":1963,"v":0.93},{"s":"cen","k":"det","year":1966,"v":1.04},{"s":"cen","k":"det","year":1969,"v":1.14},{"s":"cen","k":"det","year":1972,"v":1.24},{"s":"cen","k":"det","year":1975,"v":1.30},{"s":"cen","k":"det","year":1978,"v":1.33},{"s":"cen","k":"det","year":1981,"v":1.33},{"s":"cen","k":"det","year":1984,"v":1.32},{"s":"cen","k":"det","year":1987,"v":1.28},{"s":"cen","k":"det","year":1990,"v":1.20},{"s":"cen","k":"det","year":1993,"v":1.11},{"s":"cen","k":"det","year":1996,"v":1.01},{"s":"cen","k":"det","year":1999,"v":0.91},{"s":"cen","k":"det","year":2002,"v":0.82},{"s":"cen","k":"det","year":2005,"v":0.73},{"s":"cen","k":"det","year":2008,"v":0.67},{"s":"cen","k":"det","year":2011,"v":0.625},{"s":"cen","k":"det","year":2014,"v":0.60},{"s":"cen","k":"det","year":2017,"v":0.59},{"s":"cen","k":"det","year":2021,"v":0.59}
  ],
  "leg": [
    {"x1":1980.06,"x2":1981.7,"k":"raw","tx":1982.3,"t":"raw"},
    {"x1":1987.6,"x2":1989.9,"k":"det","tx":1990.1,"t":"detrended"}
  ],
  "box": [
    {"site":"CEN","lo":0.48,"q1":0.97,"med":1.79,"q3":2.28,"hi":2.93},
    {"site":"EDG","lo":0.94,"q1":1.36,"med":1.56,"q3":1.76,"hi":2.23},
    {"site":"REF","lo":0.415,"q1":0.63,"med":0.72,"q3":0.90,"hi":1.28}
  ],
  "out": [{"site":"REF","v":1.48}],
  "brk": [
    {"b":1,"x":0,"y":3.008},{"b":1,"x":0.04,"y":3.04},{"b":1,"x":0.1,"y":3.047},{"b":1,"x":0.9,"y":3.047},{"b":1,"x":0.97,"y":3.055},{"b":1,"x":1,"y":3.072},{"b":1,"x":1.03,"y":3.055},{"b":1,"x":1.1,"y":3.047},{"b":1,"x":1.9,"y":3.047},{"b":1,"x":1.96,"y":3.04},{"b":1,"x":2,"y":3.008},
    {"b":2,"x":1,"y":2.86},{"b":2,"x":1.04,"y":2.885},{"b":2,"x":1.1,"y":2.892},{"b":2,"x":1.42,"y":2.892},{"b":2,"x":1.48,"y":2.9},{"b":2,"x":1.5,"y":2.915},{"b":2,"x":1.52,"y":2.9},{"b":2,"x":1.58,"y":2.892},{"b":2,"x":1.9,"y":2.892},{"b":2,"x":1.96,"y":2.885},{"b":2,"x":2,"y":2.86}
  ],
  "star": [{"x":1,"y":3.11,"t":"***"},{"x":1.5,"y":2.965,"t":"***"}],
  "tbl": [
    {"r":0,"c":0,"t":"","b":1},{"r":0,"c":1,"t":"REF","b":1},{"r":0,"c":2,"t":"EDG","b":1},{"r":0,"c":3,"t":"CEN","b":1},
    {"r":1,"c":0,"t":"REF","b":1},{"r":1,"c":1,"t":"","b":0},{"r":1,"c":2,"t":"0.72","b":0},{"r":1,"c":3,"t":"0.92","b":0},
    {"r":2,"c":0,"t":"EDG","b":1},{"r":2,"c":1,"t":"0.55","b":0},{"r":2,"c":2,"t":"","b":0},{"r":2,"c":3,"t":"0.68","b":0},
    {"r":3,"c":0,"t":"CEN","b":1},{"r":3,"c":1,"t":"0.39","b":0},{"r":3,"c":2,"t":"0.52","b":0},{"r":3,"c":3,"t":"","b":0}
  ]
},
"spacing": 12,
"vconcat": [
  {
    "bounds": "flush",
    "spacing": 12,
    "vconcat": [
      {
        "width": 585, "height": 141,
        "layer": [
          {"data": {"name": "cen"}, "transform": [{"fold": ["a","b","c","d","e","f","g","h","i","j","k"], "as": ["s","v"]}],
           "mark": {"type": "line", "color": "#3b86ba", "strokeWidth": 1.2, "opacity": 0.85},
           "encoding": {
             "x": {"field": "year", "type": "quantitative", "scale": {"domain": [1956.95, 2024.05], "nice": false, "zero": false}, "axis": {"values": [1960,1970,1980,1990,2000,2010,2020], "labels": false, "title": null}},
             "y": {"field": "v", "type": "quantitative", "scale": {"domain": [-0.74, 14.85], "nice": false, "zero": false}, "axis": {"values": [0,7,14], "labelExpr": "'' + datum.value", "title": null}},
             "detail": {"field": "s", "type": "nominal"}}},
          {"data": {"name": "raw"}, "mark": {"type": "line", "color": "#1d5d8c", "strokeWidth": 2},
           "encoding": {"x": {"field": "year", "type": "quantitative"}, "y": {"field": "cen", "type": "quantitative", "title": null}}},
          {"data": {"values": [{"t": "center"}]}, "mark": {"type": "text", "align": "right", "baseline": "alphabetic", "fontStyle": "italic", "fontSize": 26},
           "encoding": {"x": {"datum": 2023.3}, "y": {"datum": 11.86}, "text": {"field": "t"}}}
        ]
      },
      {
        "width": 585, "height": 141,
        "layer": [
          {"data": {"name": "edg"}, "transform": [{"fold": ["a","b","c","d","e","f","g","h","i"], "as": ["s","v"]}],
           "mark": {"type": "line", "color": "#f0923a", "strokeWidth": 1.2, "opacity": 0.85},
           "encoding": {
             "x": {"field": "year", "type": "quantitative", "scale": {"domain": [1956.95, 2024.05], "nice": false, "zero": false}, "axis": {"values": [1960,1970,1980,1990,2000,2010,2020], "labels": false, "title": null}},
             "y": {"field": "v", "type": "quantitative", "scale": {"domain": [-0.52, 10.52], "nice": false, "zero": false}, "axis": {"values": [0,5,10], "labelExpr": "'' + datum.value", "title": "TRW [mm]", "titlePadding": 23}},
             "detail": {"field": "s", "type": "nominal"}}},
          {"data": {"name": "raw"}, "mark": {"type": "line", "color": "#c4661c", "strokeWidth": 2},
           "encoding": {"x": {"field": "year", "type": "quantitative"}, "y": {"field": "edg", "type": "quantitative"}}},
          {"data": {"values": [{"t": "edge"}]}, "mark": {"type": "text", "align": "right", "baseline": "alphabetic", "fontStyle": "italic", "fontSize": 26},
           "encoding": {"x": {"datum": 2023.3}, "y": {"datum": 8.56}, "text": {"field": "t"}}}
        ]
      },
      {
        "width": 585, "height": 141,
        "layer": [
          {"data": {"name": "ref"}, "transform": [{"fold": ["a","b","c","d","e","f","g","h","i","j","k","l"], "as": ["s","v"]}],
           "mark": {"type": "line", "color": "#b5b5b5", "strokeWidth": 1.2, "opacity": 0.9},
           "encoding": {
             "x": {"field": "year", "type": "quantitative", "scale": {"domain": [1956.95, 2024.05], "nice": false, "zero": false}, "axis": {"values": [1960,1970,1980,1990,2000,2010,2020], "labels": false, "title": null}},
             "y": {"field": "v", "type": "quantitative", "scale": {"domain": [-0.21, 4.16], "nice": false, "zero": false}, "axis": {"values": [0,2,4], "labelExpr": "'' + datum.value", "title": null}},
             "detail": {"field": "s", "type": "nominal"}}},
          {"data": {"name": "raw"}, "mark": {"type": "line", "color": "#8c8c8c", "strokeWidth": 2},
           "encoding": {"x": {"field": "year", "type": "quantitative"}, "y": {"field": "ref", "type": "quantitative", "title": null}}},
          {"data": {"values": [{"t": "reference"}]}, "mark": {"type": "text", "align": "right", "baseline": "alphabetic", "fontStyle": "italic", "fontSize": 26},
           "encoding": {"x": {"datum": 2023.3}, "y": {"datum": 3.42}, "text": {"field": "t"}}}
        ]
      },
      {
        "width": 585, "height": 140,
        "layer": [
          {"data": {"name": "raw"}, "transform": [{"fold": ["ref","edg","cen"], "as": ["s","v"]}],
           "mark": {"type": "line", "strokeWidth": 2},
           "encoding": {
             "x": {"field": "year", "type": "quantitative", "scale": {"domain": [1956.95, 2024.05], "nice": false, "zero": false}, "axis": {"values": [1960,1970,1980,1990,2000,2010,2020], "labels": false, "title": null}},
             "y": {"field": "v", "type": "quantitative", "scale": {"domain": [-0.16, 3.16], "nice": false, "zero": false}, "axis": {"values": [0,1.5,3], "labelExpr": "'' + datum.value", "title": null}},
             "color": {"field": "s", "type": "nominal", "scale": {"domain": ["ref","edg","cen"], "range": ["#aaaaaa","#ea8b30","#2d7bb1"]}, "legend": null}}},
          {"data": {"values": [{"t": "raw chronologies"}]}, "mark": {"type": "text", "align": "right", "baseline": "alphabetic", "fontStyle": "italic", "fontSize": 26},
           "encoding": {"x": {"datum": 2023.3}, "y": {"datum": 2.59}, "text": {"field": "t"}}}
        ]
      },
      {
        "width": 585, "height": 138,
        "layer": [
          {"data": {"name": "det"}, "transform": [{"fold": ["ref","edg","cen"], "as": ["s","v"]}],
           "mark": {"type": "line", "strokeWidth": 2},
           "encoding": {
             "x": {"field": "year", "type": "quantitative", "scale": {"domain": [1956.95, 2024.05], "nice": false, "zero": false}, "axis": {"values": [1960,1970,1980,1990,2000,2010,2020], "labels": false, "title": null}},
             "y": {"field": "v", "type": "quantitative", "scale": {"domain": [0.307, 2.08], "nice": false, "zero": false}, "axis": {"values": [0.4,1.2,2], "labelExpr": "'' + datum.value", "title": "ratio", "titlePadding": 17}},
             "color": {"field": "s", "type": "nominal", "scale": {"domain": ["ref","edg","cen"], "range": ["#aaaaaa","#ea8b30","#2d7bb1"]}, "legend": null}}},
          {"data": {"values": [{"t": "detrended chronologies"}]}, "mark": {"type": "text", "align": "right", "baseline": "alphabetic", "fontStyle": "italic", "fontSize": 26},
           "encoding": {"x": {"datum": 2023.3}, "y": {"datum": 1.746}, "text": {"field": "t"}}}
        ]
      },
      {
        "width": 585, "height": 131,
        "layer": [
          {
            "layer": [
              {"data": {"name": "lp"}, "transform": [{"filter": "datum.k == 'raw'"}],
               "mark": {"type": "line", "strokeWidth": 2, "interpolate": "monotone"},
               "encoding": {
                 "x": {"field": "year", "type": "quantitative", "scale": {"domain": [1956.95, 2024.05], "nice": false, "zero": false}, "axis": {"values": [1960,1970,1980,1990,2000,2010,2020], "format": "d", "labelExpr": "datum.value % 20 == 0 ? datum.label : ''", "title": "year", "labelPadding": 6, "titlePadding": -4}},
                 "y": {"field": "v", "type": "quantitative", "scale": {"domain": [0.417, 2.583], "nice": false, "zero": false}, "axis": {"values": [0.5,1.5,2.5], "labelExpr": "'' + datum.value", "title": "TRW [mm]", "titlePadding": 17}},
                 "color": {"field": "s", "type": "nominal", "scale": {"domain": ["ref","edg","cen"], "range": ["#aaaaaa","#ea8b30","#2d7bb1"]}, "legend": null}}},
              {"data": {"name": "leg"},
               "mark": {"type": "rule", "color": "#222", "strokeWidth": 2},
               "encoding": {"x": {"field": "x1", "type": "quantitative"}, "x2": {"field": "x2"}, "y": {"datum": 0.65},
                 "strokeDash": {"field": "k", "type": "nominal", "scale": {"domain": ["raw","det"], "range": [[1,0],[7,5]]}, "legend": null}}},
              {"data": {"name": "leg"},
               "mark": {"type": "text", "align": "left", "baseline": "middle", "fontStyle": "italic", "fontSize": 21, "color": "#222"},
               "encoding": {"x": {"field": "tx", "type": "quantitative"}, "y": {"datum": 0.65}, "text": {"field": "t"}}},
              {"data": {"values": [{"t": "lp"}]}, "mark": {"type": "text", "align": "right", "baseline": "alphabetic", "fontStyle": "italic", "fontSize": 26},
               "encoding": {"x": {"datum": 2023.3}, "y": {"datum": 2.245}, "text": {"field": "t"}}}
            ]
          },
          {"data": {"name": "lp"}, "transform": [{"filter": "datum.k == 'det'"}],
           "mark": {"type": "line", "strokeWidth": 2, "strokeDash": [10,7], "interpolate": "monotone"},
           "encoding": {
             "x": {"field": "year", "type": "quantitative"},
             "y": {"field": "v", "type": "quantitative", "scale": {"domain": [0.458, 1.542], "nice": false, "zero": false}, "axis": {"orient": "right", "values": [0.5,1.0,1.5], "format": ".1f", "title": "ratio", "titleAngle": 270, "titleBaseline": "top", "titlePadding": 11}},
             "color": {"field": "s", "type": "nominal", "scale": {"domain": ["ref","edg","cen"], "range": ["#aaaaaa","#ea8b30","#2d7bb1"]}, "legend": null}}}
        ],
        "resolve": {"scale": {"y": "independent"}}
      }
    ]
  },
  {
    "spacing": 6,
    "hconcat": [
      {
        "width": 316, "height": 251,
        "layer": [
          {
            "data": {"name": "box"},
            "layer": [
              {"mark": {"type": "rule", "color": "#222", "strokeWidth": 1.3, "strokeDash": [14,15]},
               "encoding": {
                 "x": {"field": "site", "type": "nominal", "scale": {"domain": ["CEN","EDG","REF"], "paddingInner": 0.117, "paddingOuter": 0.24}, "axis": {"title": "site", "labelAngle": 0, "labelFontSize": 25, "labelPadding": 10, "titlePadding": 3}},
                 "y": {"field": "hi", "type": "quantitative", "scale": {"domain": [0.318, 3.22], "nice": false, "zero": false}, "axis": {"values": [1,2,3], "labelExpr": "'' + datum.value", "title": "TRW [mm]", "titlePadding": 37}},
                 "y2": {"field": "q3"}}},
              {"mark": {"type": "rule", "color": "#222", "strokeWidth": 1.3, "strokeDash": [14,15]},
               "encoding": {"x": {"field": "site", "type": "nominal"}, "y": {"field": "lo", "type": "quantitative"}, "y2": {"field": "q1"}}},
              {"mark": {"type": "tick", "orient": "horizontal", "size": 43, "thickness": 1.5, "color": "#222"},
               "encoding": {"x": {"field": "site", "type": "nominal"}, "y": {"field": "hi", "type": "quantitative"}}},
              {"mark": {"type": "tick", "orient": "horizontal", "size": 43, "thickness": 1.5, "color": "#222"},
               "encoding": {"x": {"field": "site", "type": "nominal"}, "y": {"field": "lo", "type": "quantitative"}}},
              {"mark": {"type": "bar", "stroke": "#222", "strokeWidth": 1.5},
               "encoding": {"x": {"field": "site", "type": "nominal"}, "y": {"field": "q1", "type": "quantitative"}, "y2": {"field": "q3"},
                 "fill": {"field": "site", "type": "nominal", "scale": {"domain": ["CEN","EDG","REF"], "range": ["#1f77b4","#ff7f0e","#a9a9a9"]}, "legend": null}}},
              {"mark": {"type": "tick", "orient": "horizontal", "size": 83, "thickness": 2.5, "color": "#111"},
               "encoding": {"x": {"field": "site", "type": "nominal"}, "y": {"field": "med", "type": "quantitative"}}},
              {"data": {"name": "out"}, "mark": {"type": "point", "size": 14, "color": "#999", "strokeWidth": 1},
               "encoding": {"x": {"field": "site", "type": "nominal"}, "y": {"field": "v", "type": "quantitative"}}}
            ]
          },
          {
            "layer": [
              {"data": {"name": "brk"}, "mark": {"type": "line", "color": "#333", "strokeWidth": 1.3, "interpolate": "monotone"},
               "encoding": {"x": {"field": "x", "type": "quantitative", "scale": {"domain": [-0.6816, 2.6816], "nice": false, "zero": false}, "axis": null},
                 "y": {"field": "y", "type": "quantitative"}, "detail": {"field": "b", "type": "nominal"}}},
              {"data": {"name": "star"}, "mark": {"type": "text", "fontSize": 16, "baseline": "middle", "color": "#222"},
               "encoding": {"x": {"field": "x", "type": "quantitative"}, "y": {"field": "y", "type": "quantitative"}, "text": {"field": "t"}}}
            ]
          }
        ],
        "resolve": {"scale": {"x": "independent"}}
      },
      {
        "width": 248, "height": 252,
        "data": {"name": "tbl"},
        "layer": [
          {"mark": {"type": "rect", "fill": "white", "stroke": "#777", "strokeWidth": 1.2},
           "encoding": {
             "x": {"field": "c", "type": "ordinal", "scale": {"paddingInner": 0, "paddingOuter": 0}, "axis": {"title": "detrended chronologies", "labels": false, "ticks": false, "domain": false, "titlePadding": 13}},
             "y": {"field": "r", "type": "ordinal", "scale": {"paddingInner": 0, "paddingOuter": 0}, "axis": {"orient": "right", "title": ["low-pass filtered", "detrended chronologies"], "labels": false, "ticks": false, "domain": false, "titleAngle": 270, "titleBaseline": "top", "titlePadding": -14, "titleLineHeight": 26}}}},
          {"transform": [{"filter": "datum.b == 0"}], "mark": {"type": "text", "fontSize": 23, "color": "#111"},
           "encoding": {"x": {"field": "c", "type": "ordinal"}, "y": {"field": "r", "type": "ordinal"}, "text": {"field": "t"}}},
          {"transform": [{"filter": "datum.b == 1"}], "mark": {"type": "text", "fontSize": 21, "fontWeight": "bold", "color": "#111"},
           "encoding": {"x": {"field": "c", "type": "ordinal"}, "y": {"field": "r", "type": "ordinal"}, "text": {"field": "t"}}}
        ]
      }
    ]
  }
]
}
